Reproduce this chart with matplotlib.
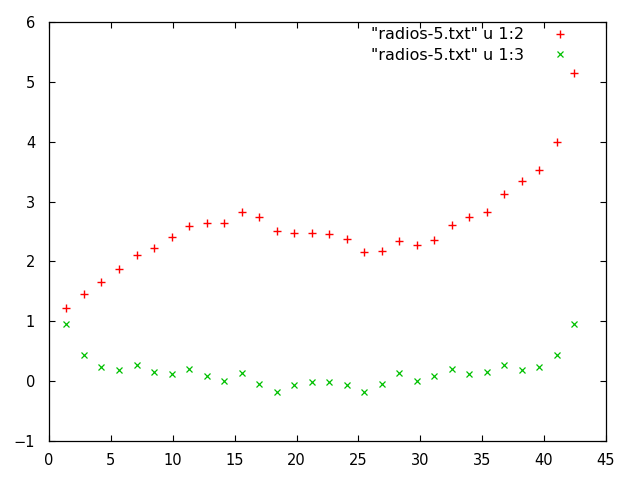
import matplotlib
matplotlib.use("Agg")
import matplotlib.pyplot as plt

# radios-5.txt columns 1, 2, 3
col1 = [1.41, 2.83, 4.24, 5.66, 7.07, 8.49, 9.90, 11.31, 12.73, 14.14,
        15.56, 16.97, 18.38, 19.80, 21.21, 22.63, 24.04, 25.46, 26.87, 28.28,
        29.70, 31.11, 32.53, 33.94, 35.36, 36.77, 38.18, 39.60, 41.01, 42.43]
col2 = [1.23, 1.46, 1.65, 1.88, 2.11, 2.23, 2.41, 2.60, 2.64, 2.64,
        2.82, 2.75, 2.50, 2.47, 2.47, 2.45, 2.38, 2.15, 2.18, 2.34,
        2.27, 2.36, 2.61, 2.75, 2.82, 3.13, 3.34, 3.53, 4.00, 5.15]
col3 = [0.955, 0.436, 0.235, 0.184, 0.268, 0.151, 0.117, 0.201, 0.084, 0.0,
        0.14, -0.05, -0.184, -0.067, -0.017, -0.017, -0.067, -0.184, -0.05, 0.134,
        0.0, 0.084, 0.201, 0.117, 0.151, 0.268, 0.184, 0.235, 0.436, 0.955]

x_ticks = [0, 5, 10, 15, 20, 25, 30, 35, 40, 45]
y_ticks = [-1, 0, 1, 2, 3, 4, 5, 6]

plt.rcParams["font.family"] = "DejaVu Sans"
fig = plt.figure(figsize=(6.4, 4.8), dpi=100)
ax = fig.add_axes([49 / 640, 39 / 480, 557 / 640, 419 / 480])

ax.plot(col1, col2, ls="none", marker="+", ms=6, mew=1.0, color="#ff0000",
        label='"radios-5.txt" u 1:2')
ax.plot(col1, col3, ls="none", marker="x", ms=5, mew=0.9, color="#00c000",
        label='"radios-5.txt" u 1:3')

ax.set_xlim(0, 45)
ax.set_ylim(-1, 6)
ax.set_xticks(x_ticks)
ax.set_yticks(y_ticks)
ax.tick_params(direction="in", length=4.5, width=0.8, top=True, right=True,
               labelsize=10.5)
ax.tick_params(axis="y", pad=10)
ax.tick_params(axis="x", pad=8.5)
for s in ax.spines.values():
    s.set_linewidth(0.9)

ax.legend(loc="upper right", bbox_to_anchor=(0.939, 0.987), markerfirst=False,
          frameon=False, fontsize=11.5, handlelength=1.5, handletextpad=1.5,
          labelspacing=0.33, borderaxespad=0, borderpad=0)

fig.savefig("out.png", dpi=100)
